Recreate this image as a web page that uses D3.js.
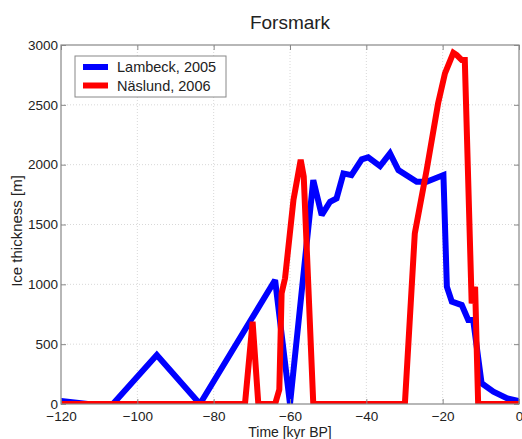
<!DOCTYPE html>
<html lang="en">
<head>
<meta charset="UTF-8">
<title>Forsmark</title>
<script src="https://cdn.jsdelivr.net/npm/d3@7"></script>
<style>
  body { margin: 0; background: #fff; }
  text { font-family: "Liberation Sans", Arial, sans-serif; }
</style>
</head>
<body>
<div id="chart"></div>
<script>
// Lambeck, 2005
let lambeckT = [-120, -113, -106.4, -94.9, -83.6, -63.9, -60, -53.9, -51.7, -49.5, -47.8, -46.0, -43.9, -41.2, -39.5, -36.4, -33.8, -31.6, -26.8, -24.2, -19.8, -18.9, -17.6, -15.0, -13.3, -12.0, -9.8, -6.7, -3.2, 0];
let lambeckV = [25, 0, 0, 410, 0, 1036, 0, 1871, 1579, 1690, 1718, 1927, 1913, 2044, 2061, 1988, 2094, 1955, 1857, 1857, 1913, 980, 855, 827, 702, 702, 173, 103, 48, 25];
// Näslund, 2006
let naslundT = [-120, -71.8, -69.8, -68.3, -63.9, -62.8, -62.2, -61.3, -59.1, -57.2, -56.4, -53.9, -29.9, -27.3, -24.2, -21.2, -19.4, -17.2, -16.3, -15.0, -14.2, -12.4, -11.5, -10.7, 0];
let naslundV = [0, 0, 688, 0, 0, 120, 925, 1050, 1704, 2040, 1900, 0, 0, 1426, 1955, 2512, 2763, 2935, 2916, 2874, 2874, 841, 980, 0, 0];

let xTicks = [-120, -100, -80, -60, -40, -20, 0];
let yTicks = [0, 500, 1000, 1500, 2000, 2500, 3000];
let seriesNames = ['Lambeck, 2005', 'Näslund, 2006'];
let seriesColors = ['#0000ff', '#ff0000'];

let width = 522, height = 439;
let padding = { top: 45, right: 3, bottom: 35, left: 61 };

let svg = d3.select('#chart').append('svg')
  .attr('width', width).attr('height', height);

let x = d3.scaleLinear().domain([-120, 0]).range([padding.left, width - padding.right]);
let y = d3.scaleLinear().domain([0, 3000]).range([height - padding.bottom, padding.top]);

// grid
svg.append('g').selectAll('line').data(xTicks.slice(1, -1)).enter().append('line')
  .attr('x1', d => x(d)).attr('x2', d => x(d))
  .attr('y1', y(0)).attr('y2', y(3000))
  .attr('stroke', '#d8d8d8').attr('stroke-dasharray', '1,2');
svg.append('g').selectAll('line').data(yTicks.slice(1, -1)).enter().append('line')
  .attr('x1', x(-120)).attr('x2', x(0))
  .attr('y1', d => y(d)).attr('y2', d => y(d))
  .attr('stroke', '#d8d8d8').attr('stroke-dasharray', '1,2');

// lines
let line = d3.line().x(d => x(d[0])).y(d => y(d[1]));
let series = [
  d3.zip(lambeckT, lambeckV),
  d3.zip(naslundT, naslundV)
];
svg.append('defs').append('clipPath').attr('id', 'clip').append('rect')
  .attr('x', x(-120)).attr('y', y(3000) - 5)
  .attr('width', x(0) - x(-120)).attr('height', y(0) - y(3000) + 5);
series.forEach((s, i) => {
  svg.append('path').datum(s)
    .attr('clip-path', 'url(#clip)')
    .attr('d', line)
    .attr('fill', 'none')
    .attr('stroke', seriesColors[i])
    .attr('stroke-width', 6)
    .attr('stroke-linejoin', 'miter')
    .attr('stroke-miterlimit', 2);
});

// box + axes
svg.append('rect')
  .attr('x', x(-120)).attr('y', y(3000))
  .attr('width', x(0) - x(-120)).attr('height', y(0) - y(3000))
  .attr('fill', 'none').attr('stroke', '#888').attr('stroke-width', 1.2);

let xAxis = svg.append('g').attr('transform', `translate(0,${y(0)})`)
  .call(d3.axisBottom(x).tickValues(xTicks).tickSize(-5).tickPadding(7).tickFormat(d3.format('d')));
let xAxisTop = svg.append('g').attr('transform', `translate(0,${y(3000)})`)
  .call(d3.axisTop(x).tickValues(xTicks).tickSize(-5).tickFormat(''));
let yAxis = svg.append('g').attr('transform', `translate(${x(-120)},0)`)
  .call(d3.axisLeft(y).tickValues(yTicks).tickSize(-5).tickPadding(3).tickFormat(d3.format('d')));
let yAxisRight = svg.append('g').attr('transform', `translate(${x(0)},0)`)
  .call(d3.axisRight(y).tickValues(yTicks).tickSize(-5).tickFormat(''));
[xAxis, xAxisTop, yAxis, yAxisRight].forEach(g => {
  g.select('.domain').remove();
  g.selectAll('.tick line').attr('stroke', '#888');
  g.selectAll('text').attr('fill', '#222').style('font-size', '13.5px');
});

// labels
svg.append('text').attr('x', 290).attr('y', 29).attr('text-anchor', 'middle')
  .style('font-size', '19px').attr('fill', '#222').text('Forsmark');
svg.append('text').attr('x', x(-60)).attr('y', 437).attr('text-anchor', 'middle')
  .style('font-size', '14px').attr('fill', '#222').text('Time [kyr BP]');
svg.append('text').attr('transform', 'translate(22,231) rotate(-90)')
  .attr('text-anchor', 'middle').style('font-size', '15px').attr('fill', '#222')
  .text('Ice thickness [m]');

// legend
let legend = svg.append('g');
legend.append('rect').attr('x', 75).attr('y', 56).attr('width', 151).attr('height', 41)
  .attr('fill', '#fff').attr('stroke', '#888').attr('stroke-width', 1);
seriesNames.forEach((name, i) => {
  let ly = 67 + i * 18.5;
  legend.append('line').attr('x1', 83).attr('x2', 108).attr('y1', ly).attr('y2', ly)
    .attr('stroke', seriesColors[i]).attr('stroke-width', 6);
  legend.append('text').attr('x', 117).attr('y', ly + 5)
    .style('font-size', '14.5px').attr('fill', '#222').text(name);
});
</script>
</body>
</html>
